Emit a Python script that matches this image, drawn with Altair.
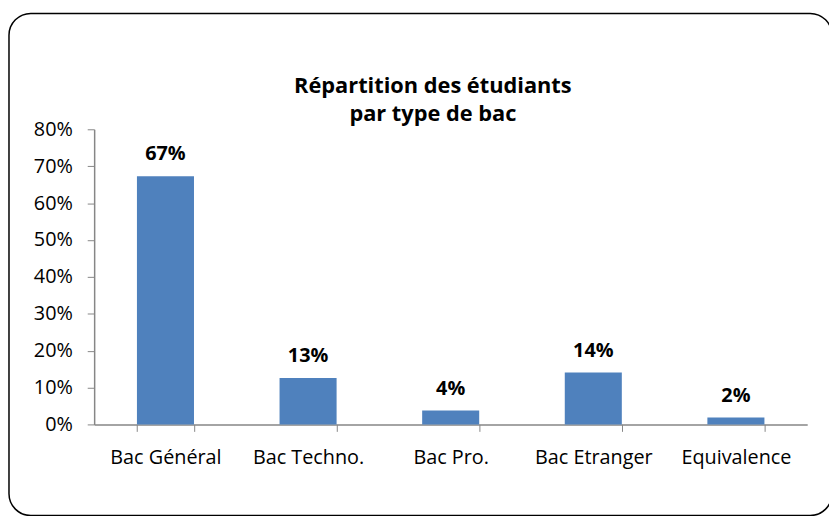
import altair as alt
import pandas as pd

categories = ["Bac Général", "Bac Techno.", "Bac Pro.", "Bac Etranger", "Equivalence"]
values = [0.673, 0.126, 0.038, 0.141, 0.019]
labels = ["67%", "13%", "4%", "14%", "2%"]
y_ticks = [0, 0.1, 0.2, 0.3, 0.4, 0.5, 0.6, 0.7, 0.8]
title_lines = ["Répartition des étudiants", "par type de bac"]

df = pd.DataFrame({"cat": categories, "val": values, "lab": labels})

FONT = "Open Sans"

x = alt.X("cat:N", sort=categories, title=None,
          scale=alt.Scale(paddingInner=0.6, paddingOuter=0.3),
          axis=alt.Axis(labelAngle=0, tickBand="extent", tickSize=7, labelPadding=16,
                        domainColor="#868686", tickColor="#868686", domainWidth=1.5,
                        labelFont=FONT, labelFontSize=20, labelColor="black",
                        labelOverlap=False))
y = alt.Y("val:Q", title=None,
          scale=alt.Scale(domain=[0, 0.8], nice=False),
          axis=alt.Axis(format=".0%", values=y_ticks,
                        grid=False, tickSize=7, labelPadding=15,
                        domainColor="#868686", tickColor="#868686", domainWidth=1.5,
                        labelFont=FONT, labelFontSize=20, labelColor="black",
                        labelOverlap=False))

bars = alt.Chart(df).mark_bar(color="#4F81BD").encode(x=x, y=y)
text = alt.Chart(df).mark_text(baseline="bottom", dy=-12, font=FONT, fontSize=20,
                                fontWeight="bold", color="black").encode(
    x=x, y=y, text="lab:N")

frame = alt.Chart(pd.DataFrame({"a": [0]})).mark_rect(
    filled=False, stroke="black", strokeWidth=1.5, cornerRadius=22).encode(
    x=alt.value(-86), x2=alt.value(745), y=alt.value(-117), y2=alt.value(390))

title = alt.Chart(pd.DataFrame({"t": [title_lines[0] + "\n" + title_lines[1]]})).mark_text(
    font=FONT, fontSize=22, fontWeight="bold", color="black", baseline="alphabetic",
    align="center", lineBreak="\n", lineHeight=29).encode(
    x=alt.value(342), y=alt.value(-37), text="t:N")

chart = alt.layer(bars, text, frame, title).properties(
    width=720, height=298,
    autosize=alt.AutoSizeParams(type="none"),
    padding={"left": 87, "top": 120, "right": 22, "bottom": 90},
).configure_view(stroke=None)

chart.save("out.html", embed_options={"renderer": "svg", "actions": False})
